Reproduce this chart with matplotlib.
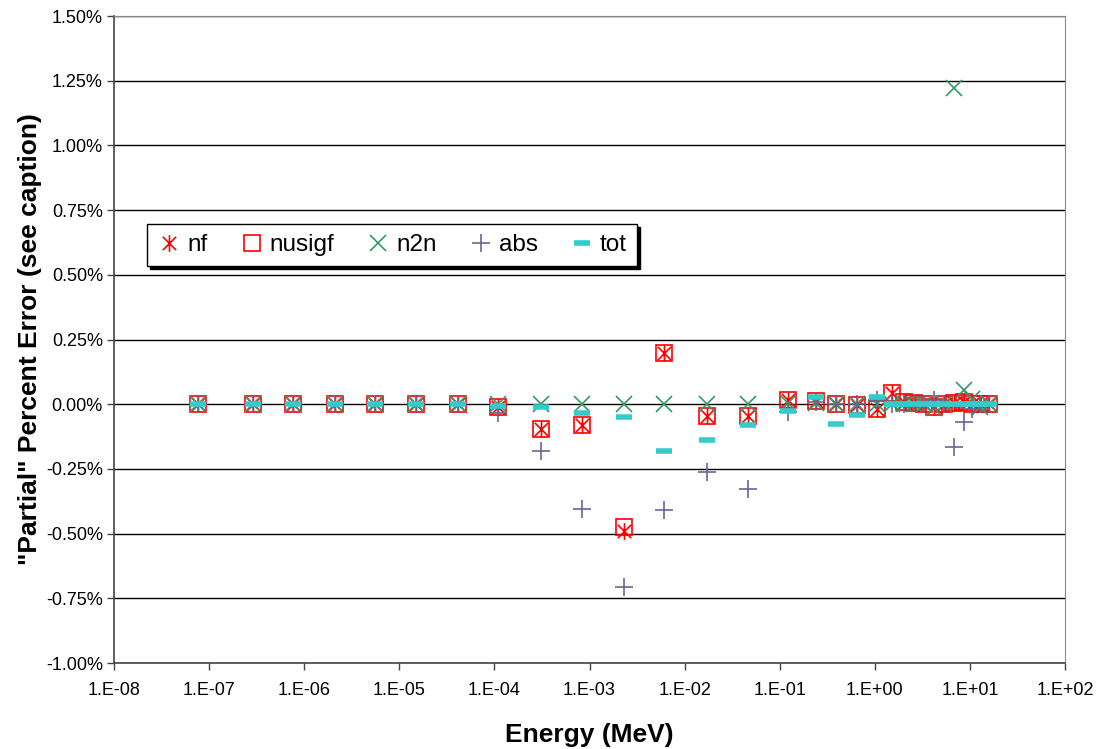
import numpy as np
import matplotlib
matplotlib.use("Agg")
import matplotlib.pyplot as plt
from matplotlib.path import Path
from matplotlib.ticker import FixedLocator, FuncFormatter

plt.rcParams['font.family'] = ['Liberation Sans', 'DejaVu Sans']

# group energies (MeV)
energy = [7.6e-8, 2.9e-7, 7.6e-7, 2.1e-6, 5.6e-6, 1.5e-5, 4.1e-5, 1.1e-4,
          3.1e-4, 8.4e-4, 2.3e-3, 6.1e-3, 1.7e-2, 4.6e-2, 0.123,
          0.242, 0.393, 0.653, 1.06, 1.52, 2.04, 2.59, 3.30, 4.21, 5.36,
          6.83, 8.69, 10.5, 12.8, 15.9]

# partial percent errors per reaction
nf = [0, 0, 0, 0, 0, 0, 0, -0.01, -0.097, -0.081, -0.49, 0.196, -0.046, -0.045, 0.015,
      0.012, 0, -0.004, -0.02, 0.045, 0.01, 0.005, 0, -0.01, 0, 0.005, 0.01, 0, 0, 0]
nusigf = [0, 0, 0, 0, 0, 0, 0, -0.01, -0.097, -0.081, -0.475, 0.196, -0.046, -0.045, 0.015,
          0.012, 0, -0.004, -0.02, 0.045, 0.01, 0.005, 0, -0.01, 0, 0.005, 0.01, 0, 0, 0]
n2n = [0, 0, 0, 0, 0, 0, 0, 0, 0, 0, 0, 0, 0, 0, 0.005,
       0.005, 0, 0, 0, 0, 0, 0, 0, -0.015, 0, 1.22, 0.055, 0.02, -0.01, 0]
absr = [0, 0, 0, 0, 0, 0, 0, -0.035, -0.18, -0.406, -0.706, -0.407, -0.261, -0.326, -0.03,
        0.01, 0, 0, 0.015, 0, 0, 0.005, 0, 0.015, 0, -0.165, -0.07, -0.02, 0, 0]
tot = [0, 0, 0, 0, 0, 0, 0, -0.005, -0.01, -0.033, -0.049, -0.182, -0.137, -0.081, -0.027,
       0.028, -0.078, -0.04, 0.028, 0, 0, 0, 0, 0, 0, 0, 0, 0, 0, 0]

# asterisk marker: vertical bar plus an X
star = Path([(0, -1), (0, 1), (-0.8, -0.8), (0.8, 0.8), (-0.8, 0.8), (0.8, -0.8)],
            [Path.MOVETO, Path.LINETO, Path.MOVETO, Path.LINETO, Path.MOVETO, Path.LINETO])

fig = plt.figure(figsize=(11.04, 7.49), dpi=100)
ax = fig.add_axes([0.1033, 0.1148, 0.8614, 0.8638])

ax.plot(energy, nf, ls='none', marker=star, ms=12, mew=1.2, mec='#ff0000',
        mfc='none', label='nf', zorder=3)
ax.plot(energy, nusigf, ls='none', marker='s', ms=12, mew=1.2, mec='#ff0000',
        mfc='none', label='nusigf', zorder=3)
ax.plot(energy, n2n, ls='none', marker='x', ms=12, mew=1.2, mec='#339966',
        label='n2n', zorder=3)
ax.plot(energy, absr, ls='none', marker='+', ms=13, mew=1.2, mec='#666699',
        label='abs', zorder=3)
ax.plot(energy, tot, ls='none', marker='_', ms=12, mew=4, mec='#33cccc',
        label='tot', zorder=3)

ax.set_xscale('log')
ax.set_xlim(1e-8, 1e2)
ax.set_ylim(-1.0, 1.5)

decades = [10.0 ** k for k in range(-8, 3)]
ax.xaxis.set_major_locator(FixedLocator(decades))
ax.xaxis.set_minor_locator(FixedLocator([]))
ax.xaxis.set_major_formatter(FuncFormatter(lambda v, p: f"1.E{int(round(np.log10(v))):+03d}"))
ax.yaxis.set_major_locator(FixedLocator(np.arange(-1.0, 1.51, 0.25)))
ax.yaxis.set_major_formatter(FuncFormatter(lambda v, p: f"{v:.2f}%"))

ax.grid(axis='y', color='black', lw=1.0, zorder=0)
ax.set_axisbelow(True)
ax.tick_params(axis='both', direction='out', length=5, width=1, color='#444444',
               labelsize=13)
ax.tick_params(axis='x', pad=9)
ax.tick_params(axis='y', pad=3)
for side in ['left', 'bottom']:
    ax.spines[side].set_color('#444444')
    ax.spines[side].set_linewidth(1.2)
for side in ['top', 'right']:
    ax.spines[side].set_color('#888888')

ax.set_xlabel('Energy (MeV)', fontsize=19, fontweight='bold', labelpad=17)
ax.set_ylabel('"Partial" Percent Error (see caption)', fontsize=19,
              fontweight='bold', labelpad=3)

leg = ax.legend(loc='upper left', bbox_to_anchor=(0.0347, 0.6785), ncol=5,
                borderaxespad=0, fontsize=17.5, frameon=True, fancybox=False,
                shadow={'color': 'black', 'alpha': 1}, handlelength=1.0,
                handletextpad=0.25, columnspacing=1.3, borderpad=0.42)
leg.get_frame().set_edgecolor('black')
leg.get_frame().set_linewidth(1.0)

fig.savefig('out.png', dpi=100)
